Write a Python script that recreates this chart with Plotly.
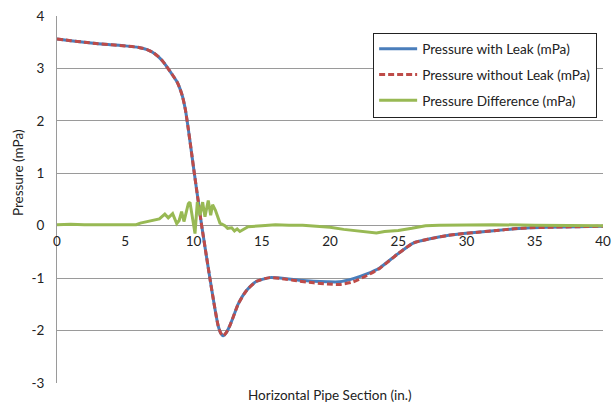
import plotly.graph_objects as go

# ---- data ----
x_press = [0, 1, 2, 3, 4, 5, 6, 6.6, 7.0, 7.4, 7.7, 8.0, 8.5, 8.8, 9.0, 9.2, 9.4, 9.6,
           9.8, 10.06, 10.33, 10.6, 10.97, 11.2, 11.45, 11.8, 12.0, 12.18, 12.4, 12.67,
           13.0, 13.28, 13.9, 14.63, 15.6, 16.8, 17.8, 18.8, 19.8, 20.7, 21.7, 22.7,
           23.66, 24.9, 26.1, 27.33, 28.5, 29.77, 31.0, 32.2, 33.5, 34.65, 36.0, 38.0,
           40.0]
p_with_leak = [3.56, 3.53, 3.50, 3.47, 3.45, 3.43, 3.40, 3.36, 3.31, 3.23, 3.15, 3.05,
               2.86, 2.74, 2.62, 2.46, 2.22, 1.88, 1.50, 1.00, 0.50, 0.00, -0.62, -1.00,
               -1.40, -1.90, -2.05, -2.10, -2.04, -1.90, -1.68, -1.49, -1.23, -1.06,
               -0.99, -1.01, -1.04, -1.06, -1.07, -1.07, -1.01, -0.92, -0.80, -0.55,
               -0.33, -0.25, -0.19, -0.15, -0.12, -0.09, -0.06, -0.04, -0.03, -0.02,
               -0.01]
p_without_leak = [3.56, 3.53, 3.50, 3.47, 3.45, 3.43, 3.40, 3.36, 3.31, 3.23, 3.15, 3.05,
                  2.86, 2.74, 2.62, 2.46, 2.22, 1.88, 1.50, 1.00, 0.50, 0.00, -0.62,
                  -1.00, -1.40, -1.90, -2.05, -2.10, -2.04, -1.90, -1.68, -1.49, -1.23,
                  -1.06, -0.99, -1.02, -1.06, -1.09, -1.11, -1.12, -1.07, -0.95, -0.81,
                  -0.55, -0.33, -0.25, -0.19, -0.15, -0.12, -0.09, -0.06, -0.04, -0.03,
                  -0.02, -0.01]

x_diff = [0, 1, 2, 3, 4, 5, 5.8, 6.1, 6.6, 7.06, 7.5, 7.9, 8.15, 8.47, 8.77, 8.95, 9.13,
          9.3, 9.62, 9.74, 9.9, 10.11, 10.28, 10.48, 10.67, 10.84, 11.08, 11.26, 11.4,
          11.6, 11.94, 12.3, 12.5, 12.8, 13.0, 13.2, 13.4, 13.64, 14.0, 15, 16, 17, 18,
          19, 20, 21, 22, 23, 23.4, 24, 25, 26, 27, 28, 30, 32, 35, 38, 40]
p_difference = [0.02, 0.03, 0.02, 0.02, 0.01, 0.02, 0.02, 0.05, 0.08, 0.10, 0.13, 0.22,
                0.15, 0.23, 0.04, 0.10, 0.27, 0.08, 0.42, 0.45, 0.20, -0.15, 0.45, 0.20,
                0.45, 0.17, 0.48, 0.20, 0.40, 0.30, 0.05, 0.00, -0.05, -0.04, -0.10,
                -0.06, -0.11, -0.08, -0.02, 0.00, 0.02, 0.01, 0.01, -0.01, -0.03, -0.07,
                -0.10, -0.12, -0.14, -0.11, -0.09, -0.05, 0.00, 0.01, 0.02, 0.02, 0.01,
                0.01, 0.00]

x_ticks = [0, 5, 10, 15, 20, 25, 30, 35, 40]
y_ticks = [-3, -2, -1, 0, 1, 2, 3, 4]

FONT = "Lato"
GRID = "#9a9a9a"
TXT = "#222222"

fig = go.Figure()
fig.add_trace(go.Scatter(x=x_press, y=p_with_leak, mode="lines",
                         name="Pressure with Leak (mPa)", legendgroup="a",
                         line=dict(color="#4A7EBB", width=3, shape="spline", smoothing=0.6)))
fig.add_trace(go.Scatter(x=x_press, y=p_without_leak, mode="lines",
                         name="Pressure without Leak (mPa)", legendgroup="b",
                         line=dict(color="#BE4B48", width=3, dash="6px,3px",
                                   shape="spline", smoothing=0.6)))
fig.add_trace(go.Scatter(x=x_diff, y=p_difference, mode="lines",
                         name="Pressure Difference (mPa)", legendgroup="c",
                         line=dict(color="#98B954", width=3)))

fig.update_layout(
    width=613, height=404,
    margin=dict(l=57, r=10, t=16, b=21, autoexpand=False),
    paper_bgcolor="white", plot_bgcolor="white",
    font=dict(family=FONT, size=13, color=TXT),
    showlegend=True,
    legend=dict(x=0.579, y=0.955, xanchor="left", yanchor="top",
                bordercolor=TXT, borderwidth=1, bgcolor="white",
                font=dict(family=FONT, size=13.6, color=TXT),
                tracegroupgap=5, itemwidth=38),
    xaxis=dict(range=[0, 40], tickvals=x_ticks, ticktext=[str(v) for v in x_ticks],
               showgrid=False, zeroline=False, showline=False,
               anchor="free", position=3 / 7, ticks="", ticklabelstandoff=6,
               tickfont=dict(family=FONT, size=13.5, color=TXT)),
    yaxis=dict(range=[-3, 4], tickvals=y_ticks, ticktext=[str(v) for v in y_ticks],
               showgrid=True, gridcolor=GRID, gridwidth=1,
               zeroline=True, zerolinecolor=GRID, zerolinewidth=1,
               showline=True, linecolor=GRID, linewidth=1, ticks="",
               ticklabelstandoff=9,
               tickfont=dict(family=FONT, size=13.5, color=TXT)),
    annotations=[
        dict(text="Pressure (mPa)", textangle=-90, xref="paper", yref="paper",
             x=-0.0714, y=0.572, xanchor="center", yanchor="middle", showarrow=False,
             font=dict(family=FONT, size=13.5, color=TXT)),
        dict(text="Horizontal Pipe Section (in.)", xref="paper", yref="paper",
             x=0.5, y=-0.033, xanchor="center", yanchor="middle", showarrow=False,
             font=dict(family=FONT, size=13.5, color=TXT)),
    ],
)

fig.write_html("out.html", config={"displayModeBar": False},
               post_script="document.body.style.margin='0px';")
